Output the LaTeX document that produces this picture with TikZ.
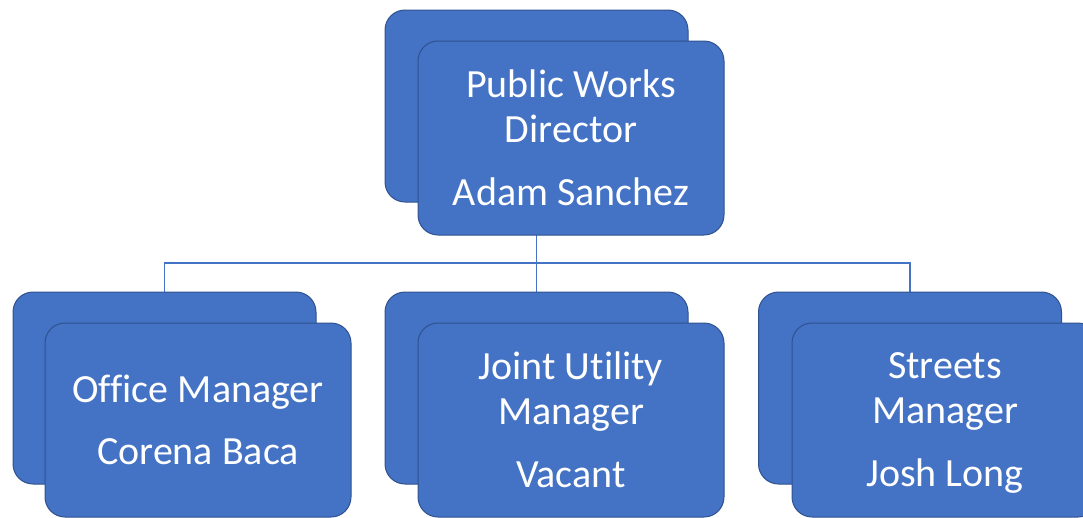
\documentclass[tikz,border=0pt]{standalone}
\usepackage{fontspec}
\setmainfont{Carlito}[Ligatures=NoCommon]
\usetikzlibrary{backgrounds}
\definecolor{boxfill}{HTML}{4472C4}
\definecolor{boxline}{HTML}{2F528F}
\begin{document}
\begin{tikzpicture}[x=1pt,y=-1pt,
  backbox/.style={draw=boxline,line width=1pt,fill=boxfill,rounded corners=20pt,
    minimum width=303pt,minimum height=192pt,inner sep=0pt},
  frontbox/.style={draw=boxline,line width=1pt,fill=boxfill,rounded corners=20pt,
    minimum width=306pt,minimum height=194pt,inner sep=0pt,align=center,
    text=white,font=\fontsize{40}{45}\selectfont,text depth=0pt},
  link/.style={draw=boxfill,line width=1.6pt}]
\clip (0,0) rectangle (1083,517);
% top
\node[backbox] (topb) at (536.5,106) {};
\node[frontbox] (topf) at (571,138) {Public Works\\Director\\[18pt]Adam Sanchez};
% left
\node[backbox] (leftb) at (164.5,388) {};
\node[frontbox] (leftf) at (198,420) {Office Manager\\[17pt]Corena Baca};
% middle
\node[backbox] (midb) at (536.5,388) {};
\node[frontbox] (midf) at (571,420) {Joint Utility\\Manager\\[18pt]Vacant};
% right
\node[backbox] (rightb) at (910,388) {};
\node[frontbox] (rightf) at (945,420) {Streets\\Manager\\[18pt]Josh Long};
\coordinate (bus) at (0,263);
\begin{scope}[on background layer]
\draw[link] (topb.south) -- (midb.north);
\draw[link] (leftb.north) -- (leftb.north |- bus) -- (rightb.north |- bus) -- (rightb.north);
\end{scope}
\end{tikzpicture}
\end{document}
